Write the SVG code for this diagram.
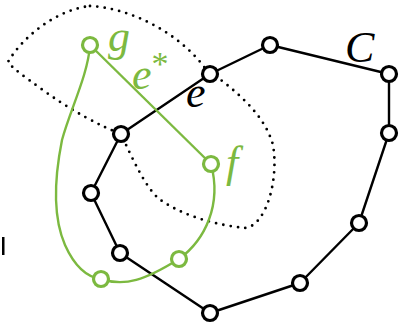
<svg xmlns="http://www.w3.org/2000/svg" width="399" height="323" viewBox="0 0 399 323">
<style>
.blk{fill:none;stroke:#000;stroke-width:2.4;stroke-linejoin:round}
.grn{fill:none;stroke:#7cb940;stroke-width:2.4}
.dot{fill:none;stroke:#000;stroke-width:2.8;stroke-linecap:round;stroke-dasharray:0 7.4}
.bn{fill:#fff;stroke:#000;stroke-width:3.2}
.gn{fill:#fff;stroke:#7cb940;stroke-width:3.2}
.lbl{font-family:"Liberation Serif",serif;font-style:italic;font-size:44px}
</style>
<rect width="399" height="323" fill="#fff"/>
<g id="connectors">
<path class="dot" d="M90,6 C130,8 178,32 205,68 C232,88 264,112 273,145 C279,180 266,226 245,228 C215,225 180,215 158,198 C145,186 133,160 121,134 C100,126 70,110 40,88 C25,77 12,68 8,62 C22,38 55,10 90,6 Z"/>
<polygon class="blk" points="210,74 270,45 389,74 389,133 359,223 300,283 210,313 120,253 91,193 121,134"/>
<line class="grn" x1="90" y1="45" x2="211" y2="164"/>
<path class="grn" d="M90,45 C88,75 70,110 62,140 C55,175 52,215 65,245 C74,265 85,277 101,279 C125,287 145,280 179,259 C205,240 222,205 211,164"/>
</g>
<g id="n1"><circle class="bn" cx="210" cy="74" r="7.5"/></g>
<g id="n2"><circle class="bn" cx="270" cy="45" r="7.5"/></g>
<g id="n3"><circle class="bn" cx="389" cy="74" r="7.5"/></g>
<g id="n4"><circle class="bn" cx="389" cy="133" r="7.5"/></g>
<g id="n5"><circle class="bn" cx="359" cy="223" r="7.5"/></g>
<g id="n6"><circle class="bn" cx="300" cy="283" r="7.5"/></g>
<g id="n7"><circle class="bn" cx="210" cy="313" r="7.5"/></g>
<g id="n8"><circle class="bn" cx="120" cy="253" r="7.5"/></g>
<g id="n9"><circle class="bn" cx="91" cy="193" r="7.5"/></g>
<g id="n10"><circle class="bn" cx="121" cy="134" r="7.5"/></g>
<g id="g"><circle class="gn" cx="90" cy="45" r="7.5"/></g>
<g id="f"><circle class="gn" cx="211" cy="164" r="7.5"/></g>
<g id="h1"><circle class="gn" cx="179" cy="259" r="7.5"/></g>
<g id="h2"><circle class="gn" cx="101" cy="279" r="7.5"/></g>
<g id="labels">
<text class="lbl" x="108" y="51" fill="#7cb940">g</text>
<text class="lbl" x="132" y="89" fill="#7cb940">e<tspan font-size="34" dy="-14" font-style="normal">*</tspan></text>
<text class="lbl" x="186" y="107" fill="#000">e</text>
<text class="lbl" x="345" y="62" fill="#000" font-size="50">C</text>
<text class="lbl" x="226" y="177" fill="#7cb940">f</text>
</g>
<rect x="2" y="237" width="2.5" height="18" fill="#000"/>
</svg>
